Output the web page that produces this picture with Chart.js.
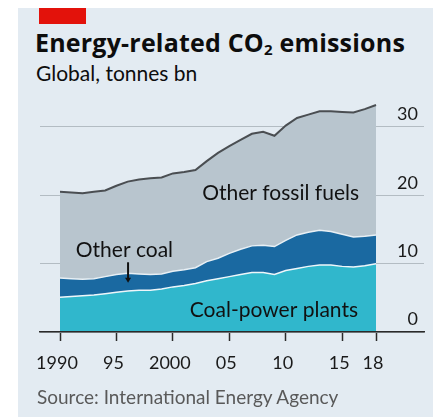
<!DOCTYPE html>
<html>
<head>
<meta charset="utf-8">
<script src="https://cdn.jsdelivr.net/npm/chart.js@4.4.0/dist/chart.umd.min.js"></script>
<style>
html, body { margin: 0; padding: 0; background: #fff; }
#wrap { position: relative; width: 433px; height: 417px; overflow: hidden; font-family: Lato, sans-serif; }
#panel { position: absolute; left: 18px; top: 8px; right: 0; bottom: 0; background: #e3ebf2; }
#redbar { position: absolute; left: 39px; top: 8px; width: 47px; height: 16px; background: #e3120b; }
.txt { position: absolute; white-space: nowrap; line-height: 1; }
#title { left: 35px; top: 30px; font-family: "Open Sans", sans-serif; font-size: 25px; font-weight: 700; color: #0d0d0d; letter-spacing: 0.2px; }
#title sub { font-size: 15px; vertical-align: -3px; line-height: 0; }
#subtitle { left: 36px; top: 62px; font-size: 21px; color: #0d0d0d; }
#source { left: 37px; top: 387px; font-size: 19px; color: #595959; }
#chart { position: absolute; left: 0; top: 0; }
</style>
</head>
<body>
<div id="wrap">
  <div id="panel"></div>
  <div id="redbar"></div>
  <div class="txt" id="title">Energy-related CO<sub>2</sub> emissions</div>
  <div class="txt" id="subtitle">Global, tonnes bn</div>
  <canvas id="chart" width="433" height="417"></canvas>
  <div class="txt" id="source">Source: International Energy Agency</div>
</div>
<script>
// Données (milliards de tonnes)
const years = [1990, 1991, 1992, 1993, 1994, 1995, 1996, 1997, 1998, 1999,
               2000, 2001, 2002, 2003, 2004, 2005, 2006, 2007, 2008, 2009,
               2010, 2011, 2012, 2013, 2014, 2015, 2016, 2017, 2018];
const coalPowerPlants = [5.1, 5.2, 5.3, 5.4, 5.6, 5.8, 6.0, 6.1, 6.1, 6.3,
                         6.6, 6.8, 7.1, 7.5, 7.8, 8.1, 8.4, 8.7, 8.7, 8.4,
                         9.0, 9.3, 9.6, 9.8, 9.8, 9.6, 9.5, 9.7, 10.0];
const otherCoal = [2.8, 2.6, 2.4, 2.4, 2.5, 2.6, 2.6, 2.4, 2.3, 2.2,
                   2.3, 2.3, 2.3, 2.8, 3.0, 3.4, 3.7, 3.9, 4.0, 4.1,
                   4.4, 4.9, 5.0, 5.1, 4.9, 4.7, 4.4, 4.3, 4.2];
const otherFossilFuels = [12.6, 12.6, 12.6, 12.7, 12.6, 13.0, 13.4, 13.8, 14.1, 14.1,
                          14.3, 14.3, 14.3, 14.7, 15.4, 15.7, 16.0, 16.4, 16.6, 16.2,
                          16.8, 17.1, 17.2, 17.4, 17.6, 17.9, 18.2, 18.6, 19.0];
const seriesNames = ["Coal-power plants", "Other coal", "Other fossil fuels"];
const xTickValues = [1990, 1995, 2000, 2005, 2010, 2015, 2018];
const xTickLabels = ["1990", "95", "2000", "05", "10", "15", "18"];
const yTickValues = [0, 10, 20, 30];

// Étiquettes dans le graphique (coordonnées en données : année, valeur)
const annotations = [
    { text: seriesNames[2], x: 2002.6, y: 19.3 },
    { text: seriesNames[1], x: 1991.4, y: 10.98 },
    { text: seriesNames[0], x: 2001.5, y: 2.2 }
];
const arrow = { x: 1996.03, yFrom: 10.2, yTo: 7.2 };

function points(values) {
    return years.map(function (annee, i) {
        return { x: annee, y: values[i] };
    });
}

const labelsPlugin = {
    id: 'labels',
    afterDatasetsDraw(chart) {
        const ctx = chart.ctx;
        const xs = chart.scales.x;
        const ys = chart.scales.y;
        ctx.save();
        ctx.fillStyle = '#111';
        ctx.font = '21px Lato';
        ctx.textAlign = 'left';
        ctx.textBaseline = 'alphabetic';
        for (let a of annotations) {
            ctx.fillText(a.text, xs.getPixelForValue(a.x), ys.getPixelForValue(a.y));
        }
        // flèche "Other coal"
        let ax = xs.getPixelForValue(arrow.x);
        let y1 = ys.getPixelForValue(arrow.yFrom);
        let y2 = ys.getPixelForValue(arrow.yTo);
        ctx.strokeStyle = '#111';
        ctx.lineWidth = 2;
        ctx.beginPath();
        ctx.moveTo(ax, y1);
        ctx.lineTo(ax, y2 - 4);
        ctx.stroke();
        ctx.beginPath();
        ctx.moveTo(ax - 3, y2 - 5);
        ctx.lineTo(ax + 3, y2 - 5);
        ctx.lineTo(ax, y2);
        ctx.closePath();
        ctx.fill();
        ctx.restore();
    }
};

const config = {
    type: 'line',
    data: {
        datasets: [
            {
                label: seriesNames[0],
                data: points(coalPowerPlants),
                backgroundColor: '#30b7cc',
                borderColor: '#eef6fa',
                borderWidth: 1.5,
                fill: 'origin'
            },
            {
                label: seriesNames[1],
                data: points(otherCoal),
                backgroundColor: '#1a69a1',
                borderColor: '#e8f0f5',
                borderWidth: 1.5,
                fill: '-1'
            },
            {
                label: seriesNames[2],
                data: points(otherFossilFuels),
                backgroundColor: '#b8c5ce',
                borderColor: '#4a4e52',
                borderWidth: 2,
                fill: '-1'
            }
        ]
    },
    options: {
        responsive: false,
        animation: false,
        events: [],
        elements: { point: { radius: 0 }, line: { tension: 0 } },
        layout: { padding: { left: 40, right: 9, top: 103, bottom: 45 } },
        plugins: { legend: { display: false }, tooltip: { enabled: false } },
        scales: {
            x: {
                type: 'linear',
                min: 1988.228,
                max: 2022.25,
                afterBuildTicks: function (scale) {
                    scale.ticks = xTickValues.map(v => ({ value: v }));
                },
                afterFit: function (scale) { scale.height = 40; },
                grid: { drawOnChartArea: false, drawTicks: true, tickLength: 9, tickColor: '#2a2a2a', tickWidth: 1.5 },
                border: { display: true, color: '#2a2a2a', width: 1.5, z: 1 },
                ticks: {
                    autoSkip: false,
                    maxRotation: 0,
                    padding: 11,
                    labelOffset: -3,
                    color: '#1a1a1a',
                    font: { family: 'Lato', size: 18 },
                    callback: function (v) {
                        let i = xTickValues.indexOf(v);
                        return i >= 0 ? xTickLabels[i] : '';
                    }
                }
            },
            y: {
                position: 'right',
                stacked: true,
                min: 0,
                max: 33.5,
                afterBuildTicks: function (scale) {
                    scale.ticks = yTickValues.map(v => ({ value: v }));
                },
                afterFit: function (scale) { scale.width = 0; },
                grid: { color: '#b3bcc3', lineWidth: 1, drawTicks: false },
                border: { display: false },
                ticks: {
                    mirror: true,
                    padding: -6,
                    labelOffset: -12.5,
                    color: '#1a1a1a',
                    font: { family: 'Lato', size: 18 }
                }
            }
        }
    },
    plugins: [labelsPlugin]
};

new Chart(document.getElementById('chart'), config);
</script>
</body>
</html>
